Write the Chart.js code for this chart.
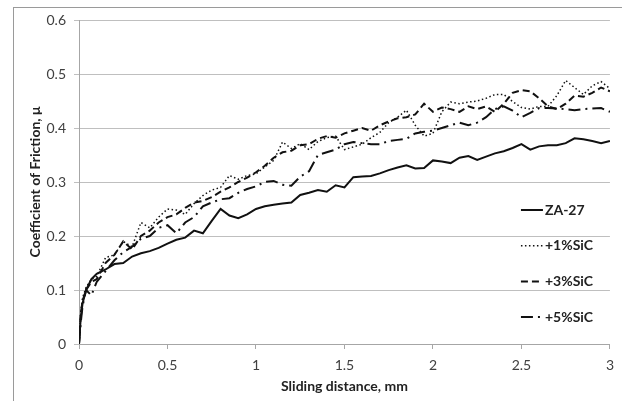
<!DOCTYPE html>
<html>
<head>
<meta charset="utf-8">
<script src="https://cdn.jsdelivr.net/npm/chart.js@4.4.1/dist/chart.umd.min.js"></script>
<style>
    html, body { margin: 0; padding: 0; background: #fff; overflow: hidden; }
    #moldura { position: absolute; left: 13px; top: 7px; width: 800px; height: 600px; border: 1px solid #9a9a9a; }
    #caixa { position: absolute; left: 0; top: 0; width: 622px; height: 401px; }
</style>
</head>
<body>
<div id="moldura"></div>
<div id="caixa"><canvas id="grafico"></canvas></div>
<script>
// distância de deslizamento (mm)
const distancia = [0, 0.01, 0.02, 0.04, 0.07, 0.1, 0.15, 0.2, 0.25, 0.3, 0.35, 0.4, 0.45, 0.5, 0.55, 0.6, 0.65, 0.7, 0.75, 0.8, 0.85, 0.9, 0.95, 1, 1.05, 1.1, 1.15, 1.2, 1.25, 1.3, 1.35, 1.4, 1.45, 1.5, 1.55, 1.6, 1.65, 1.7, 1.75, 1.8, 1.85, 1.9, 1.95, 2, 2.05, 2.1, 2.15, 2.2, 2.25, 2.3, 2.35, 2.4, 2.45, 2.5, 2.55, 2.6, 2.65, 2.7, 2.75, 2.8, 2.85, 2.9, 2.95, 3];

// coeficiente de atrito de cada material
const za27 = [0, 0.05, 0.075, 0.1, 0.12, 0.13, 0.138, 0.148, 0.15, 0.162, 0.168, 0.172, 0.178, 0.186, 0.193, 0.197, 0.21, 0.205, 0.228, 0.25, 0.238, 0.233, 0.24, 0.25, 0.255, 0.258, 0.26, 0.262, 0.276, 0.28, 0.285, 0.282, 0.294, 0.29, 0.309, 0.31, 0.311, 0.316, 0.322, 0.327, 0.331, 0.325, 0.326, 0.34, 0.338, 0.335, 0.345, 0.348, 0.341, 0.347, 0.353, 0.357, 0.363, 0.37, 0.36, 0.366, 0.368, 0.368, 0.372, 0.381, 0.379, 0.376, 0.372, 0.376];
const sic1 = [0, 0.06, 0.085, 0.105, 0.12, 0.125, 0.16, 0.165, 0.19, 0.18, 0.225, 0.215, 0.235, 0.25, 0.248, 0.24, 0.26, 0.275, 0.285, 0.29, 0.312, 0.305, 0.312, 0.315, 0.328, 0.34, 0.374, 0.362, 0.371, 0.36, 0.375, 0.382, 0.385, 0.36, 0.365, 0.37, 0.382, 0.392, 0.41, 0.42, 0.433, 0.405, 0.385, 0.39, 0.43, 0.448, 0.445, 0.448, 0.45, 0.455, 0.462, 0.462, 0.449, 0.438, 0.435, 0.44, 0.44, 0.46, 0.488, 0.475, 0.462, 0.478, 0.486, 0.473];
const sic3 = [0, 0.055, 0.08, 0.1, 0.115, 0.12, 0.15, 0.165, 0.19, 0.175, 0.2, 0.21, 0.225, 0.235, 0.24, 0.252, 0.262, 0.265, 0.272, 0.282, 0.29, 0.3, 0.308, 0.318, 0.33, 0.345, 0.355, 0.358, 0.368, 0.37, 0.38, 0.385, 0.382, 0.39, 0.395, 0.4, 0.395, 0.405, 0.412, 0.418, 0.42, 0.425, 0.445, 0.43, 0.438, 0.435, 0.43, 0.44, 0.435, 0.44, 0.43, 0.445, 0.465, 0.47, 0.468, 0.455, 0.44, 0.435, 0.445, 0.46, 0.458, 0.465, 0.475, 0.468];
const sic5 = [0, 0.04, 0.07, 0.1, 0.09, 0.115, 0.135, 0.155, 0.17, 0.18, 0.195, 0.2, 0.215, 0.22, 0.205, 0.225, 0.235, 0.255, 0.262, 0.268, 0.27, 0.28, 0.287, 0.292, 0.3, 0.302, 0.295, 0.293, 0.31, 0.32, 0.35, 0.355, 0.36, 0.37, 0.374, 0.372, 0.37, 0.37, 0.376, 0.378, 0.38, 0.39, 0.393, 0.395, 0.4, 0.405, 0.41, 0.405, 0.41, 0.42, 0.435, 0.44, 0.432, 0.42, 0.428, 0.437, 0.437, 0.436, 0.435, 0.433, 0.435, 0.436, 0.437, 0.43];

const nomes = ["ZA-27", "+1%SiC", "+3%SiC", "+5%SiC"];
const ticksX = ["0", "0.5", "1", "1.5", "2", "2.5", "3"];
const ticksY = ["0", "0.1", "0.2", "0.3", "0.4", "0.5", "0.6"];

// estilo das linhas (contínua, pontilhada, tracejada, traço-ponto)
const tracos = [[], [1.5, 2.5], [7, 4], [12, 5, 2, 5]];
const larguras = [2, 1.5, 2, 2];

function pontos(valores) {
    return valores.map((v, i) => ({ x: distancia[i], y: v }));
}

Chart.defaults.font.family = "Lato";

// legenda desenhada dentro da área do gráfico, como no original
const legendaInterna = {
    id: "legendaInterna",
    afterDatasetsDraw(chart) {
        const ctx = chart.ctx;
        const area = chart.chartArea;
        ctx.save();
        ctx.font = "bold 14px Lato";
        ctx.fillStyle = "#222";
        ctx.textBaseline = "middle";
        chart.data.datasets.forEach((ds, i) => {
            const x = area.right - 89;
            const y = area.top + 190 + i * 35.7;
            ctx.beginPath();
            ctx.setLineDash(ds.borderDash);
            ctx.lineWidth = ds.borderWidth;
            ctx.strokeStyle = ds.borderColor;
            ctx.moveTo(x, y);
            ctx.lineTo(x + 22, y);
            ctx.stroke();
            ctx.fillText(ds.label, x + 24, y);
        });
        ctx.restore();
    }
};

const series = [za27, sic1, sic3, sic5];

const config = {
    type: "line",
    data: {
        datasets: series.map((s, i) => ({
            label: nomes[i],
            data: pontos(s),
            borderColor: "#111",
            borderWidth: larguras[i],
            borderDash: tracos[i],
            pointRadius: 0,
            tension: 0,
            fill: false
        }))
    },
    options: {
        responsive: true,
        maintainAspectRatio: false,
        animation: false,
        layout: { padding: { top: 20, right: 12, bottom: 0, left: 0 } },
        plugins: {
            legend: { display: false },
            tooltip: { enabled: false }
        },
        scales: {
            x: {
                type: "linear",
                min: 0,
                max: 3,
                ticks: {
                    stepSize: 0.5,
                    color: "#404040",
                    font: { size: 14 },
                    padding: 8,
                    maxRotation: 0,
                    callback: (v, i) => ticksX[i] ?? v
                },
                grid: { drawOnChartArea: false, drawTicks: true, tickLength: 5, color: "#a6a6a6" },
                border: { color: "#a6a6a6" },
                title: {
                    display: true,
                    text: "Sliding distance, mm",
                    color: "#222",
                    font: { size: 14, weight: "bold" },
                    padding: { top: 0, bottom: 6 }
                },
                afterFit: (escala) => { escala.height = 57; }
            },
            y: {
                min: 0,
                max: 0.6,
                ticks: {
                    stepSize: 0.1,
                    color: "#404040",
                    font: { size: 14 },
                    padding: 8,
                    callback: (v, i) => ticksY[i] ?? v
                },
                grid: { color: "#bfbfbf", tickLength: 5 },
                border: { color: "#a6a6a6" },
                title: {
                    display: true,
                    text: "Coefficient of Friction, μ",
                    color: "#222",
                    font: { size: 14, weight: "bold" },
                    padding: { top: 27, bottom: 0 }
                },
                afterFit: (escala) => { escala.width = 79; }
            }
        }
    },
    plugins: [legendaInterna]
};

new Chart(document.getElementById("grafico"), config);
</script>
</body>
</html>
